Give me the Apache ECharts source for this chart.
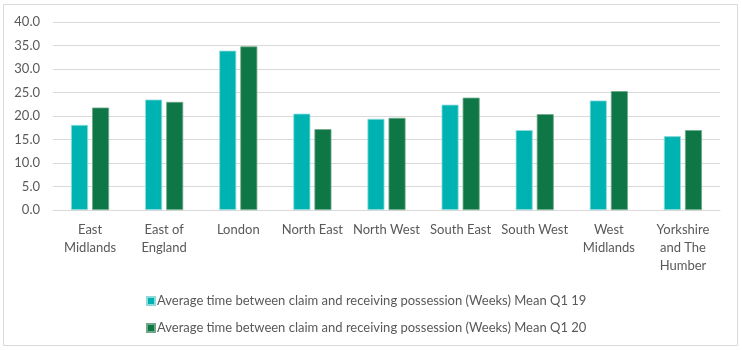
<!DOCTYPE html>
<html><head><meta charset="utf-8">
<script src="https://cdn.jsdelivr.net/npm/echarts@6/dist/echarts.min.js"></script>
<style>html,body{margin:0;padding:0;background:#fff}#c{width:742px;height:350px}</style>
</head><body><div id="c"></div>
<script>
const categories = ["East\nMidlands","East of\nEngland","London","North East","North West","South East","South West","West\nMidlands","Yorkshire\nand The\nHumber"];
const seriesNames = ["Average time between claim and receiving possession (Weeks) Mean Q1 19","Average time between claim and receiving possession (Weeks) Mean Q1 20"];
const q119 = [18.1, 23.5, 33.9, 20.5, 19.4, 22.4, 17.0, 23.3, 15.7];
const q120 = [21.8, 23.0, 34.8, 17.2, 19.6, 23.9, 20.4, 25.3, 17.0];
const yTicks = {min:0, max:40, interval:5};
const FONT = 'Lato';
const chart = echarts.init(document.getElementById('c'));
chart.setOption({
  animation:false,
  textStyle:{fontFamily:FONT},
  graphic:[{type:'rect',shape:{x:3.5,y:4.5,width:734,height:341},style:{fill:'none',stroke:'#d9d9d9',lineWidth:1}}],
  grid:{left:53,right:22,top:22,bottom:140,containLabel:false},
  legend:{orient:'vertical',left:141,top:289,itemWidth:8,itemHeight:8,itemGap:13,icon:'rect',
    textStyle:{fontFamily:FONT,fontSize:13,color:'#595959',lineHeight:14,padding:[0,0,0,-3]},
    data:seriesNames},
  xAxis:{type:'category',data:categories,
    axisLine:{lineStyle:{color:'#d9d9d9'}},axisTick:{show:false},
    axisLabel:{color:'#595959',fontSize:13,lineHeight:18,margin:11,interval:0,fontFamily:FONT}},
  yAxis:{type:'value',min:yTicks.min,max:yTicks.max,interval:yTicks.interval,
    axisLine:{show:false},axisTick:{show:false},
    splitLine:{lineStyle:{color:'#d9d9d9'}},
    axisLabel:{color:'#595959',fontSize:13,margin:13,fontFamily:FONT,formatter:v=>v.toFixed(1)}},
  series:[
    {name:seriesNames[0],type:'bar',data:q119,barWidth:17,barGap:'24%',
     itemStyle:{color:'#00B3B3',borderColor:'#8fdada',borderWidth:0.8}},
    {name:seriesNames[1],type:'bar',data:q120,barWidth:17,
     itemStyle:{color:'#0F7645',borderColor:'#6fa98c',borderWidth:0.8}}
  ]
});
</script></body></html>
